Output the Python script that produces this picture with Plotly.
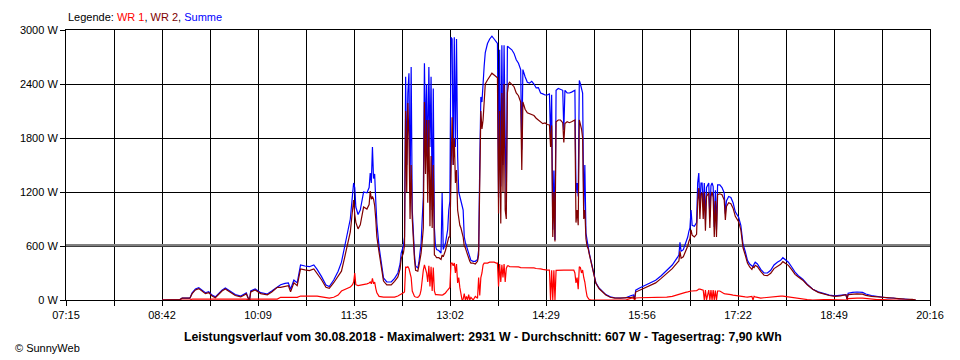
import plotly.graph_objects as go

# ---- data (minutes after midnight, watts) ----
minutes = [
    522, 538, 540, 547, 549, 552, 555, 558, 561, 564, 567, 570, 573, 576, 579, 583, 588, 593, 598, 600,
    601, 602, 606, 611, 617, 621, 626, 629, 633, 636, 638, 641, 644, 647, 651, 655, 659, 662, 666, 670,
    673, 677, 681, 684, 687, 690, 692, 694, 695, 696, 697, 699, 701, 704, 707, 709, 710, 711, 712, 713,
    714, 715, 716, 718, 720, 722, 725, 729, 732, 735, 737, 738, 740, 741,
    742, 743, 744, 745, 746, 747, 748, 749, 750, 751, 752, 753, 754, 755, 756, 757, 758, 759, 760, 761,
    762, 763, 764, 765, 766, 767, 768, 769, 770, 772, 774, 775, 776, 778, 780, 781, 782, 783, 784, 785,
    786, 787, 788, 789, 790, 791, 792, 793, 794, 795, 796, 797, 798, 799, 800, 801, 803, 805, 807, 808,
    809, 810, 811, 812, 813, 814, 816, 818, 820, 822, 824, 825, 826, 827, 828, 829, 830, 831, 832, 833,
    834, 835, 836, 838, 840, 842, 844, 846, 847, 848, 850, 852, 854, 856, 858, 860, 862, 864, 866, 868,
    870, 872, 873, 874, 875, 876, 877, 878, 880, 882, 884, 885, 886, 888, 890, 892, 894, 895, 896, 897,
    898, 899, 900, 901, 902, 903, 904, 905, 906, 907, 908, 910, 912, 914, 917,
    920, 923, 927, 931, 936, 941, 946, 948, 949, 950, 953, 958, 963, 968, 973, 978, 983, 988, 989, 990,
    991, 993, 995, 997, 998, 999, 1000, 1001, 1003, 1005, 1006, 1007, 1008, 1009, 1010, 1011, 1012, 1013, 1014, 1016,
    1017, 1018, 1019, 1020, 1021, 1022, 1023, 1024, 1026, 1028, 1030, 1031, 1032, 1034, 1036, 1038, 1040, 1042, 1043, 1045,
    1046, 1047, 1049, 1051, 1053, 1055, 1056, 1057, 1058, 1060, 1063, 1066, 1069, 1072, 1075, 1078, 1081, 1083, 1085, 1088,
    1091, 1094, 1097, 1101, 1105, 1110, 1115, 1120, 1125, 1130, 1135, 1140, 1141, 1142, 1146, 1150, 1155, 1158, 1163, 1168,
    1173, 1178, 1183, 1188, 1193, 1200, 1203,
]

summe = [
    0, 5, 20, 20, 80, 122, 137, 106, 81, 92, 55, 35, 78, 110, 133, 100, 60, 44, 78, 10,
    10, 100, 122, 81, 67, 100, 150, 170, 185, 190, 120, 222, 190, 389, 378, 370, 389, 340, 260, 167,
    150, 222, 320, 420, 600, 770, 900, 1170, 1300, 1250, 1033, 950, 1000, 1200, 1190, 1250, 1410, 1300, 1700, 1350,
    1400, 1100, 856, 590, 411, 245, 200, 200, 240, 300, 400, 522, 600, 700,
    2480, 1500, 2300, 2520, 1200, 2590, 1000, 700, 500, 380, 360, 355, 420, 500, 630, 900, 1144, 2630, 1800, 2400,
    1500, 2590, 1700, 2480, 1000, 2350, 800, 600, 560, 550, 520, 1190, 560, 630, 780, 1000, 1100, 2920, 2900, 1500,
    2920, 1700, 2900, 1600, 1200, 1150, 1080, 1050, 1000, 700, 640, 600, 560, 500, 470, 440, 430, 430, 450, 556,
    1500, 2256, 2200, 2440, 2600, 2750, 2850, 2900, 2931, 2900, 2860, 2850, 1140, 2780, 1260, 2830, 1500, 2830, 1800, 1080,
    2820, 2810, 2800, 2780, 2740, 2670, 2630, 2560, 1670, 2560, 2480, 2420, 2410, 2430, 2400, 2356, 2360, 2300, 2290, 2278,
    2278, 2290, 1780, 2280, 780, 1440, 667, 2330, 2350, 2340, 2330, 1890, 2330, 2300, 2300, 2310, 2320, 2330, 1190, 1300,
    1150, 2440, 2400, 2330, 2300, 1000, 1500, 744, 633, 590, 520, 400, 300, 190, 130,
    100, 60, 35, 25, 22, 25, 50, 56, 10, 110, 130, 160, 185, 220, 270, 330, 389, 480, 500, 640,
    540, 560, 620, 700, 760, 800, 1000, 830, 820, 860, 1300, 1410, 1050, 1300, 1300, 1030, 1300, 890, 1250, 1300,
    920, 1270, 1300, 1260, 810, 1220, 780, 1280, 1280, 1250, 1190, 960, 1100, 1150, 1140, 1080, 980, 940, 920, 830,
    700, 620, 540, 440, 400, 380, 370, 400, 420, 400, 340, 300, 300, 330, 389, 420, 440, 470, 450, 420,
    367, 310, 270, 230, 175, 120, 90, 70, 55, 45, 50, 60, 10, 75, 85, 89, 85, 67, 50, 40,
    33, 22, 22, 11, 11, 8, 0,
]

wr1 = [
    0, 0, 0, 0, 10, 10, 10, 10, 10, 10, 10, 10, 10, 10, 10, 10, 10, 10, 10, 0,
    0, 10, 10, 10, 10, 10, 10, 30, 30, 30, 30, 30, 30, 44, 44, 44, 44, 44, 35, 25,
    20, 30, 55, 100, 120, 140, 144, 170, 200, 300, 170, 160, 165, 167, 180, 189, 200, 180, 240, 180,
    200, 130, 80, 40, 35, 33, 33, 33, 33, 44, 55, 60, 80, 90,
    370, 360, 370, 350, 300, 250, 100, 60, 40, 33, 33, 30, 40, 60, 111, 250, 333, 389, 350, 300,
    200, 380, 150, 370, 100, 360, 100, 60, 60, 55, 55, 55, 60, 78, 111, 130, 140, 410, 410, 380,
    410, 300, 400, 190, 250, 140, 50, 0, 10, 70, 0, 40, 0, 60, 0, 30, 0, 40, 20, 250,
    50, 250, 300, 390, 410, 410, 410, 420, 420, 420, 410, 410, 150, 400, 200, 390, 250, 400, 200, 350,
    380, 380, 370, 370, 367, 367, 367, 360, 360, 360, 356, 356, 356, 356, 356, 350, 350, 345, 340, 333,
    333, 333, 0, 330, 0, 330, 0, 330, 333, 333, 333, 333, 333, 333, 333, 333, 333, 300, 190, 250,
    120, 370, 360, 300, 333, 250, 200, 111, 40, 20, 5, 0, 0, 0, 0,
    0, 0, 0, 0, 0, 0, 20, 22, 0, 22, 25, 25, 30, 30, 30, 33, 40, 60, 67, 70,
    75, 78, 85, 90, 95, 100, 100, 100, 100, 105, 110, 122, 120, 115, 110, 110, 0, 110, 0, 110,
    0, 110, 0, 110, 0, 105, 0, 100, 100, 80, 70, 67, 67, 60, 60, 55, 50, 45, 44, 44,
    40, 40, 35, 33, 33, 40, 0, 40, 35, 30, 22, 25, 30, 33, 40, 44, 44, 44, 40, 35,
    30, 25, 15, 10, 5, 0, 5, 5, 5, 5, 5, 0, 0, 15, 20, 20, 20, 15, 10, 5,
    5, 0, 0, 0, 0, 0, 0,
]

wr2 = [
    0, 5, 20, 20, 70, 112, 127, 96, 71, 82, 45, 25, 68, 100, 123, 90, 50, 34, 68, 10,
    10, 90, 112, 71, 57, 90, 140, 140, 155, 160, 90, 192, 160, 345, 334, 326, 345, 296, 225, 142,
    130, 192, 265, 320, 480, 630, 756, 1000, 1110, 950, 863, 790, 835, 1033, 1010, 1061, 1210, 1120, 1150, 1120,
    1050, 900, 700, 530, 370, 210, 167, 167, 207, 256, 345, 460, 520, 610,
    2100, 1200, 2190, 1800, 900, 1500, 900, 620, 450, 330, 320, 320, 380, 440, 520, 650, 800, 2200, 1400, 2000,
    1080, 2000, 820, 1600, 800, 1500, 500, 490, 470, 470, 450, 500, 480, 550, 650, 700, 700, 1590, 2030, 1500,
    1800, 1300, 1444, 1000, 900, 830, 800, 760, 700, 600, 580, 540, 500, 450, 430, 410, 410, 400, 430, 500,
    1100, 2100, 1900, 2000, 2200, 2400, 2444, 2490, 2520, 2500, 2480, 2470, 960, 2100, 850, 2300, 1200, 2400, 1000, 900,
    2300, 2400, 2420, 2400, 2370, 2300, 2270, 2200, 1444, 2200, 2120, 2080, 2070, 2060, 2050, 2020, 2000, 1970, 1960, 1967,
    1950, 1944, 1700, 1940, 700, 1200, 650, 1980, 2000, 2000, 1970, 1750, 1960, 1980, 1970, 1980, 1990, 2000, 860, 1000,
    830, 2000, 1950, 1900, 1800, 900, 1000, 680, 600, 570, 510, 390, 295, 185, 125,
    95, 55, 30, 20, 20, 22, 30, 34, 10, 88, 105, 135, 155, 190, 240, 297, 349, 420, 433, 540,
    465, 480, 535, 600, 650, 680, 780, 720, 700, 730, 1100, 1244, 900, 1180, 1190, 900, 1200, 770, 1150, 1190,
    800, 1150, 1200, 1140, 700, 1100, 700, 1170, 1180, 1170, 1110, 890, 1040, 1080, 1070, 1020, 930, 890, 870, 780,
    660, 580, 500, 410, 367, 340, 370, 360, 385, 370, 318, 275, 270, 297, 349, 376, 396, 426, 410, 385,
    337, 285, 255, 220, 170, 120, 85, 65, 50, 40, 45, 60, 10, 60, 65, 69, 65, 52, 40, 35,
    28, 22, 22, 11, 11, 8, 0,
]

tick_labels = ["07:15", "08:42", "10:09", "11:35", "13:02", "14:29", "15:56", "17:22", "18:49", "20:16"]
y_ticks = [0, 600, 1200, 1800, 2400, 3000]
average_w = 607
title_text = ("Leistungsverlauf vom 30.08.2018 - Maximalwert: 2931 W - "
              "Durchschnitt: 607 W - Tagesertrag: 7,90 kWh")

# ---- axis helpers ----
def hm(s):
    h, m = s.split(":")
    return int(h) * 60 + int(m)

x0, x1 = hm(tick_labels[0]), hm(tick_labels[-1])
n_int = (len(tick_labels) - 1) * 2
tickvals = [x0 + i * (x1 - x0) / n_int for i in range(n_int + 1)]
ticktext = [tick_labels[i // 2] if i % 2 == 0 else "" for i in range(n_int + 1)]

FONT = "Liberation Sans, Arial, sans-serif"
LW = 1.2

fig = go.Figure()
fig.add_trace(go.Scatter(x=minutes, y=summe, mode="lines", name="Summe",
                         line=dict(color="#0000FF", width=LW)))
fig.add_trace(go.Scatter(x=minutes, y=wr1, mode="lines", name="WR 1",
                         line=dict(color="#FF0000", width=LW)))
fig.add_trace(go.Scatter(x=minutes, y=wr2, mode="lines", name="WR 2",
                         line=dict(color="#800000", width=LW)))

fig.add_shape(type="line", xref="x", yref="y", x0=x0, x1=x1, y0=average_w, y1=average_w,
              line=dict(color="#808080", width=2.5), layer="between")

# page body has an 8px margin: the figure is 8px smaller and offset, so the plot area sits at 61..930 x 30..300
fig.update_layout(
    width=952, height=352,
    margin=dict(l=53, r=30, t=22, b=60),
    paper_bgcolor="white", plot_bgcolor="white",
    showlegend=False,
    font=dict(family=FONT, size=11, color="black"),
    xaxis=dict(range=[x0, x1], tickmode="array", tickvals=tickvals, ticktext=ticktext,
               showgrid=True, gridcolor="black", gridwidth=1,
               showline=True, linecolor="black", linewidth=1, mirror=True,
               ticks="outside", ticklen=5, tickcolor="black", zeroline=False,
               tickfont=dict(family=FONT, size=11, color="black")),
    yaxis=dict(range=[0, 3000], tickmode="array", tickvals=y_ticks,
               ticktext=[f"{v} W" for v in y_ticks],
               showgrid=True, gridcolor="black", gridwidth=1,
               showline=True, linecolor="black", linewidth=1, mirror=True,
               ticks="outside", ticklen=5, tickcolor="black", zeroline=False,
               tickfont=dict(family=FONT, size=11, color="black")),
)

fig.add_annotation(xref="paper", yref="paper", x=0, y=1, yshift=13,
                   xanchor="left", yanchor="middle", showarrow=False,
                   text=('Legende: <span style="color:#FF0000">WR 1</span>, '
                         '<span style="color:#800000">WR 2</span>, '
                         '<span style="color:#0000FF">Summe</span>'),
                   font=dict(family=FONT, size=11, color="black"))
fig.add_annotation(xref="paper", yref="paper", x=(480 - 61) / 869, y=0, yshift=-37,
                   xanchor="center", yanchor="middle", showarrow=False,
                   text="<b>" + title_text + "</b>",
                   font=dict(family=FONT, size=12.3, color="black"))
fig.add_annotation(xref="paper", yref="paper", x=-53 / 869, y=0, yshift=-48,
                   xanchor="left", yanchor="middle", showarrow=False,
                   text="© SunnyWeb",
                   font=dict(family=FONT, size=11, color="black"))

fig.write_html("out.html")
